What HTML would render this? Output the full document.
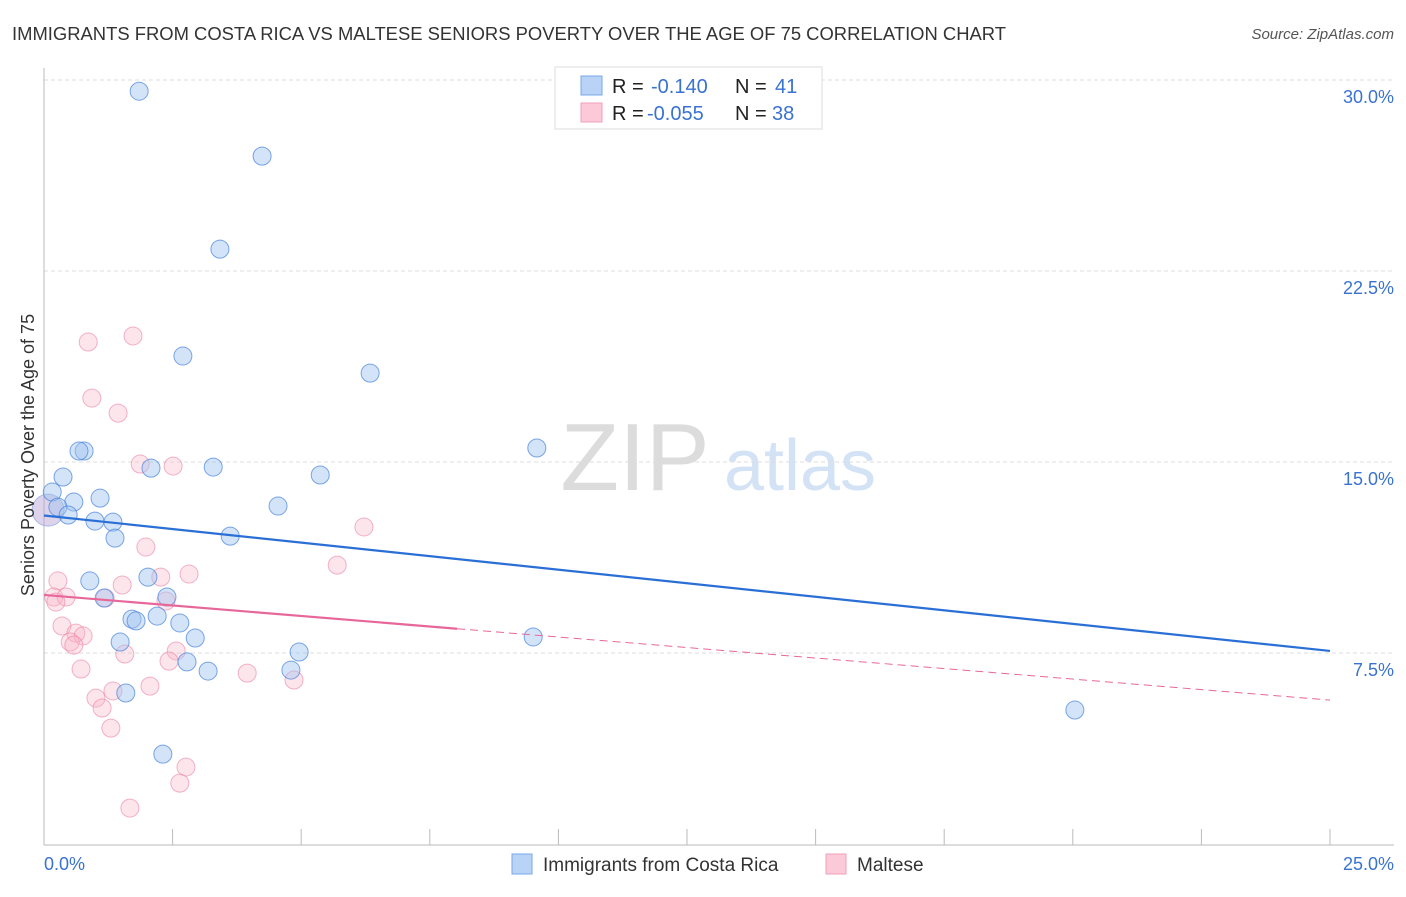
<!DOCTYPE html>
<html><head><meta charset="utf-8"><style>
body{margin:0;background:#fff;font-family:"Liberation Sans",sans-serif;}
svg text{font-family:"Liberation Sans",sans-serif;}
</style></head><body>
<svg id="chart" width="1406" height="892" xmlns="http://www.w3.org/2000/svg">
<text x="12" y="40" font-size="18" fill="#333" textLength="994" lengthAdjust="spacingAndGlyphs">IMMIGRANTS FROM COSTA RICA VS MALTESE SENIORS POVERTY OVER THE AGE OF 75 CORRELATION CHART</text>
<text x="1394" y="39" font-size="15" fill="#555" text-anchor="end" font-style="italic">Source: ZipAtlas.com</text>
<g>
<text x="635" y="490" font-size="96" fill="#dcdcdc" font-family="Liberation Serif" text-anchor="middle">ZIP</text>
<text x="800" y="490" font-size="72" fill="#d3e2f5" text-anchor="middle">atlas</text>
</g>
<g id="grid"></g>
<g id="axes"></g>
<g id="marks"></g>
<text transform="translate(34,455) rotate(-90)" font-size="18" fill="#333" text-anchor="middle">Seniors Poverty Over the Age of 75</text>
<text x="44" y="870" font-size="18" fill="#3a72d0">0.0%</text>
<text x="1394" y="870" font-size="18" fill="#3a72d0" text-anchor="end">25.0%</text>
<g>
<rect x="555" y="67" width="267" height="62" fill="#fff" stroke="#ddd"/>
<rect x="581" y="76" width="21" height="19" fill="#b8d3f5" stroke="#7aa8e8"/>
<rect x="581" y="103" width="21" height="19" fill="#fcc9d8" stroke="#f0a0b8"/>
<text x="612" y="93" font-size="20" fill="#222">R = <tspan x="651" fill="#3a72d0">-0.140</tspan><tspan x="735">N = </tspan><tspan x="775" fill="#3a72d0">41</tspan></text>
<text x="612" y="120" font-size="20" fill="#222">R = <tspan x="647" fill="#3a72d0">-0.055</tspan><tspan x="735">N = </tspan><tspan x="772" fill="#3a72d0">38</tspan></text>
</g>
<g>
<rect x="512" y="854" width="20" height="20" fill="#b8d3f5" stroke="#7aa8e8"/>
<text x="543" y="871" font-size="19" fill="#333">Immigrants from Costa Rica</text>
<rect x="826" y="854" width="20" height="20" fill="#fcc9d8" stroke="#f0a0b8"/>
<text x="857" y="871" font-size="19" fill="#333">Maltese</text>
</g>
</svg>
<script>
const yTicks=[7.5,15,22.5,30];
const yTickLabels=["7.5%","15.0%","22.5%","30.0%"];
const xTicks=[0,2.5,5,7.5,10,12.5,15,17.5,20,22.5,25];
const blueX=[1.85,4.24,3.42,2.70,6.34,9.58,0.78,0.68,2.08,3.29,5.37,0.37,0.16,1.09,0.58,0.27,4.55,0.47,0.99,1.34,1.38,3.62,0.89,2.02,1.17,2.39,1.71,1.79,2.20,2.64,2.94,1.48,9.51,4.96,2.78,3.19,4.80,1.59,20.04,2.31];
const blueY=[29.56,27.01,23.36,19.16,18.49,15.55,15.43,15.43,14.76,14.80,14.49,14.41,13.82,13.58,13.43,13.23,13.27,12.92,12.68,12.64,12.01,12.09,10.33,10.48,9.66,9.70,8.83,8.76,8.95,8.68,8.09,7.93,8.13,7.54,7.15,6.79,6.83,5.93,5.26,3.53];
const pinkX=[1.73,0.86,0.93,1.44,1.87,2.51,6.22,1.98,5.70,0.27,2.82,2.27,1.52,0.19,0.43,0.23,1.19,2.37,0.35,0.62,0.76,0.51,0.58,1.57,2.57,2.43,0.72,3.95,4.86,1.34,2.06,1.01,1.13,1.30,2.76,2.64,1.67];
const pinkY=[19.95,19.71,17.51,16.92,14.92,14.84,12.45,11.66,10.95,10.33,10.60,10.48,10.17,9.70,9.70,9.50,9.66,9.54,8.56,8.28,8.17,7.93,7.81,7.46,7.58,7.18,6.87,6.71,6.44,6.01,6.20,5.73,5.34,4.55,3.02,2.39,1.41];
const bigPoint=[0.08,13.11];
const blueTrend=[12.9,7.58];
const pinkTrend=[9.78,5.65];
const pinkSolidEnd=8.03;
const NS="http://www.w3.org/2000/svg";
const X=v=>44+v*(1286/25);
const Y=v=>844-v*(191/7.5);
function mk(t,a,p){const e=document.createElementNS(NS,t);for(const k in a)e.setAttribute(k,a[k]);p.appendChild(e);return e;}
const grid=document.getElementById('grid'),axes=document.getElementById('axes'),marks=document.getElementById('marks');
yTicks.forEach((v,i)=>{
const l=mk('line',{x1:44,x2:1394,y1:Y(v),y2:Y(v),stroke:'#ddd','stroke-dasharray':'4,3'},grid);


const t=mk('text',{x:1394,y:Y(v)+23,'font-size':18,fill:'#3a72d0','text-anchor':'end'},grid);
t.textContent=yTickLabels[i];


});
const ax=mk('line',{x1:44,x2:44,y1:68,y2:845,stroke:'#bbb'},axes);


const bx=mk('line',{x1:44,x2:1394,y1:845,y2:845,stroke:'#bbb'},axes);


xTicks.forEach(v=>{
const t=mk('line',{x1:X(v),x2:X(v),y1:829,y2:845,stroke:'#bbb'},axes);


});
function dot(x,y,r,fill,stroke,name){
const c=mk('circle',{cx:X(x),cy:Y(y),r:r,fill:fill,stroke:stroke,'stroke-width':1},marks);


}
const big=mk('circle',{cx:X(bigPoint[0]),cy:Y(bigPoint[1]),r:16,fill:'rgba(180,160,210,0.45)',stroke:'rgba(120,150,220,0.6)'},marks);


pinkX.forEach((x,i)=>dot(x,pinkY[i],9,'rgba(248,180,200,0.35)','rgba(235,130,165,0.6)','maltese-point'));
blueX.forEach((x,i)=>dot(x,blueY[i],9,'rgba(160,195,240,0.45)','rgba(70,130,220,0.7)','costa-rica-point'));
const bl=mk('line',{x1:X(0),y1:Y(blueTrend[0]),x2:X(25),y2:Y(blueTrend[1]),stroke:'#2a6fd6','stroke-width':2.2},marks);


const py=x=>pinkTrend[0]+(pinkTrend[1]-pinkTrend[0])*x/25;
const pl=mk('line',{x1:X(0),y1:Y(pinkTrend[0]),x2:X(pinkSolidEnd),y2:Y(py(pinkSolidEnd)),stroke:'#e8679a','stroke-width':2.2},marks);


const pd=mk('line',{x1:X(pinkSolidEnd),y1:Y(py(pinkSolidEnd)),x2:X(25),y2:Y(pinkTrend[1]),stroke:'#e8679a','stroke-width':1,'stroke-dasharray':'8,5'},marks);


</script>
</body></html>
